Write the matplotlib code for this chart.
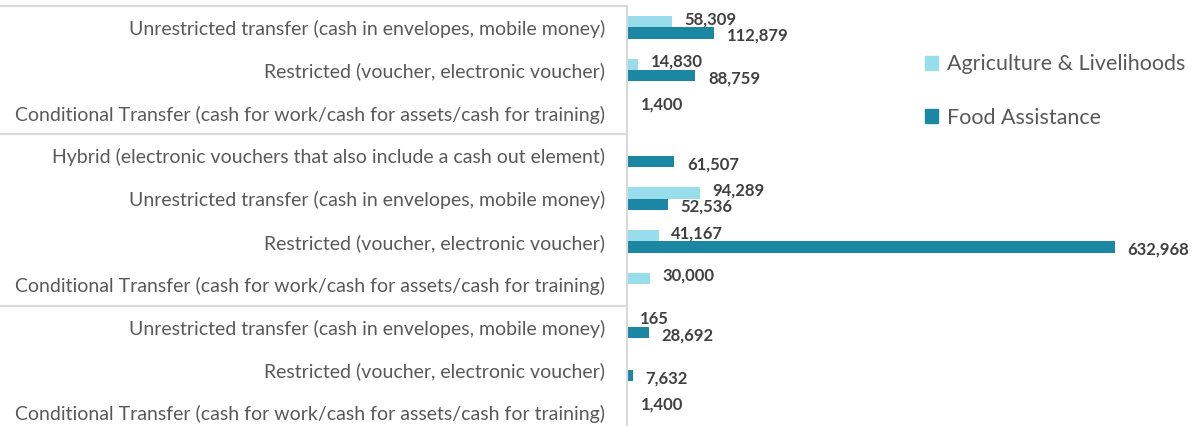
import numpy as np
import matplotlib
matplotlib.use("Agg")
import matplotlib.pyplot as plt
from matplotlib.patches import Patch

plt.rcParams['font.family'] = ['Lato', 'DejaVu Sans']

# categories top to bottom
categories = [
    "Unrestricted transfer (cash in envelopes, mobile money)",
    "Restricted (voucher, electronic voucher)",
    "Conditional Transfer (cash for work/cash for assets/cash for training)",
    "Hybrid (electronic vouchers that also include a cash out element)",
    "Unrestricted transfer (cash in envelopes, mobile money)",
    "Restricted (voucher, electronic voucher)",
    "Conditional Transfer (cash for work/cash for assets/cash for training)",
    "Unrestricted transfer (cash in envelopes, mobile money)",
    "Restricted (voucher, electronic voucher)",
    "Conditional Transfer (cash for work/cash for assets/cash for training)",
]
agri = [58309, 14830, 1400, None, 94289, 41167, 30000, 165, None, 1400]
food = [112879, 88759, None, 61507, 52536, 632968, None, 28692, 7632, None]
group_breaks = [0, 3, 7]  # separator lines above these rows

series_names = ["Agriculture & Livelihoods", "Food Assistance"]
c_agri = "#97DDEC"
c_food = "#1B87A3"

W, H = 1201, 426
fig = plt.figure(figsize=(W / 100, H / 100), dpi=100)
ax_left, ax_w = 627, 540
ax_top, ax_bot = 6, 434
ax = fig.add_axes([ax_left / W, (H - ax_bot) / H, ax_w / W, (ax_bot - ax_top) / H])

y = np.arange(len(categories))
bh = 0.26
agri_v = np.array([np.nan if v is None else v for v in agri], dtype=float)
food_v = np.array([np.nan if v is None else v for v in food], dtype=float)

ax.barh(y - bh / 2, np.nan_to_num(agri_v), height=bh, color=c_agri)
ax.barh(y + bh / 2, np.nan_to_num(food_v), height=bh, color=c_food)

lbl = dict(va="center", ha="left", fontsize=12, fontweight="bold", color="#404040",
           textcoords="offset points")
for yy, v in zip(y - bh / 2, agri_v):
    if not np.isnan(v):
        ax.annotate(f"{int(v):,}", (v, yy), xytext=(9, 2), **lbl)
for yy, v in zip(y + bh / 2, food_v):
    if not np.isnan(v):
        ax.annotate(f"{int(v):,}", (v, yy), xytext=(9, -2), **lbl)

ax.set_xlim(0, 632968 * ax_w / 488)
ax.set_ylim(len(categories) - 0.5, -0.5)
ax.set_yticks(y)
ax.set_yticklabels(categories, fontsize=14, color="#595959")
ax.tick_params(axis="y", length=0, pad=16)
ax.set_xticks([])
for s in ["top", "right", "bottom"]:
    ax.spines[s].set_visible(False)
ax.spines["left"].set_color("#D9D9D9")
ax.spines["left"].set_linewidth(1.5)

# group separators in the category axis area
for b in group_breaks:
    ax.axhline(b - 0.5, xmin=-ax_left / ax_w, xmax=0, color="#D9D9D9", lw=1.5, clip_on=False)

handles = [Patch(color=c_agri), Patch(color=c_food)]
fig.legend(handles, series_names, loc="upper left", bbox_to_anchor=(906 / W, 1 - 35 / H),
           frameon=False, fontsize=15.5, labelcolor="#595959", handlelength=0.6,
           handleheight=0.6, handletextpad=0.4, labelspacing=1.55)

fig.savefig("out.png", dpi=100)
